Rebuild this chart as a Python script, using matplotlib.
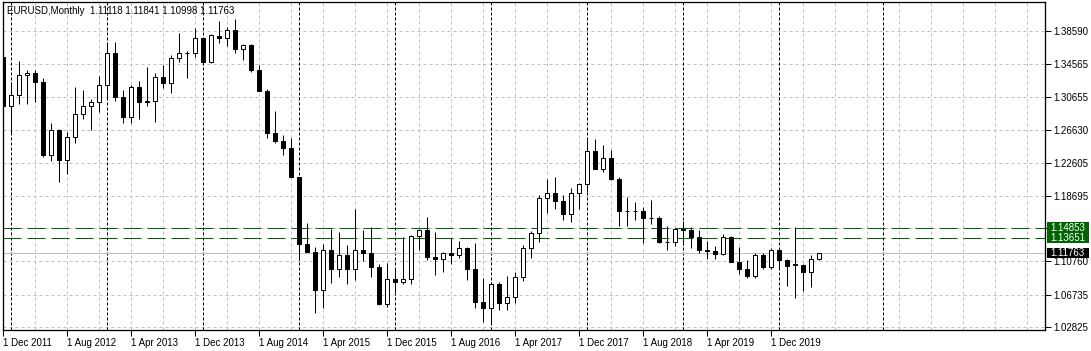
import matplotlib
matplotlib.use("Agg")
import matplotlib.pyplot as plt
import matplotlib.transforms as mtransforms
from matplotlib.patches import Rectangle

# EURUSD monthly bars, Dec 2011 .. Jun 2020
opens = [1.3540, 1.2945, 1.3080, 1.3320, 1.3345, 1.3240, 1.2365, 1.2660, 1.2300, 1.2580,
         1.2860, 1.2955, 1.2995, 1.3200, 1.3585, 1.3060, 1.2820, 1.3175, 1.2995, 1.3010,
         1.3300, 1.3225, 1.3525, 1.3585, 1.3590, 1.3770, 1.3485, 1.3790, 1.3775, 1.3870,
         1.3635, 1.3690, 1.3390, 1.3130, 1.2630, 1.2525, 1.2450, 1.2100, 1.1285, 1.1195,
         1.0730, 1.1220, 1.0985, 1.1150, 1.0985, 1.1210, 1.1175, 1.1005, 1.0565, 1.0860,
         1.0830, 1.0870, 1.1380, 1.1455, 1.1130, 1.1105, 1.1175, 1.1160, 1.1240, 1.0980,
         1.0585, 1.0515, 1.0800, 1.0575, 1.0650, 1.0895, 1.1240, 1.1425, 1.1845, 1.1905,
         1.1810, 1.1645, 1.1905, 1.2005, 1.2410, 1.2195, 1.2320, 1.2075, 1.1690, 1.1690,
         1.1690, 1.1600, 1.1605, 1.1310, 1.1315, 1.1465, 1.1450, 1.1370, 1.1215, 1.1205,
         1.1165, 1.1370, 1.1075, 1.0985, 1.0900, 1.1150, 1.1015, 1.1215, 1.1095, 1.1040,
         1.1030, 1.0955, 1.11118]
highs = [1.3550, 1.3235, 1.3490, 1.3385, 1.3385, 1.3285, 1.2750, 1.2670, 1.2640, 1.3175,
         1.3140, 1.3030, 1.3310, 1.3710, 1.3720, 1.3140, 1.3200, 1.3250, 1.3420, 1.3345,
         1.3450, 1.3570, 1.3830, 1.3620, 1.3895, 1.3775, 1.3825, 1.3975, 1.3905, 1.3995,
         1.3700, 1.3700, 1.3445, 1.3150, 1.2885, 1.2600, 1.2570, 1.2100, 1.1535, 1.1245,
         1.1290, 1.1465, 1.1435, 1.1280, 1.1715, 1.1460, 1.1495, 1.1050, 1.1060, 1.0985,
         1.1375, 1.1395, 1.1465, 1.1615, 1.1430, 1.1185, 1.1365, 1.1325, 1.1245, 1.1300,
         1.0875, 1.0830, 1.0830, 1.0905, 1.0950, 1.1270, 1.1445, 1.1875, 1.2070, 1.2090,
         1.1880, 1.1960, 1.2025, 1.2535, 1.2555, 1.2475, 1.2415, 1.2095, 1.1850, 1.1790,
         1.1735, 1.1815, 1.1625, 1.1500, 1.1485, 1.1570, 1.1490, 1.1450, 1.1325, 1.1265,
         1.1410, 1.1385, 1.1250, 1.1095, 1.1180, 1.1175, 1.1240, 1.1240, 1.1105, 1.1495,
         1.1040, 1.1155, 1.11841]
lows = [1.2860, 1.2625, 1.2975, 1.2975, 1.3000, 1.2335, 1.2290, 1.2040, 1.2130, 1.2500,
        1.2800, 1.2665, 1.2880, 1.3040, 1.3015, 1.2750, 1.2745, 1.2795, 1.2955, 1.2760,
        1.3170, 1.3105, 1.3480, 1.3290, 1.3545, 1.3480, 1.3475, 1.3705, 1.3670, 1.3590,
        1.3505, 1.3365, 1.3130, 1.2570, 1.2500, 1.2360, 1.2100, 1.1100, 1.1190, 1.0460,
        1.0520, 1.0820, 1.0890, 1.0810, 1.0850, 1.1085, 1.0895, 1.0555, 1.0525, 1.0710,
        1.0810, 1.0810, 1.1215, 1.1100, 1.0910, 1.0950, 1.1045, 1.1120, 1.0850, 1.0520,
        1.0350, 1.0340, 1.0495, 1.0495, 1.0570, 1.0840, 1.1120, 1.1310, 1.1660, 1.1715,
        1.1575, 1.1555, 1.1715, 1.1915, 1.2205, 1.2155, 1.2055, 1.1510, 1.1510, 1.1575,
        1.1300, 1.1525, 1.1300, 1.1215, 1.1265, 1.1275, 1.1235, 1.1175, 1.1110, 1.1105,
        1.1160, 1.1065, 1.0925, 1.0880, 1.0880, 1.0980, 1.0980, 1.0990, 1.0775, 1.0635,
        1.0720, 1.0765, 1.10998]
closes = [1.2945, 1.3080, 1.3320, 1.3345, 1.3240, 1.2365, 1.2660, 1.2300, 1.2580, 1.2860,
          1.2955, 1.3005, 1.3200, 1.3585, 1.3060, 1.2820, 1.3175, 1.2995, 1.3010, 1.3300,
          1.3225, 1.3525, 1.3585, 1.3590, 1.3770, 1.3485, 1.3805, 1.3775, 1.3870, 1.3635,
          1.3690, 1.3390, 1.3130, 1.2630, 1.2525, 1.2450, 1.2100, 1.1285, 1.1195, 1.0730,
          1.1220, 1.0985, 1.1150, 1.0985, 1.1210, 1.1175, 1.1005, 1.0565, 1.0860, 1.0830,
          1.0870, 1.1380, 1.1455, 1.1130, 1.1105, 1.1175, 1.1160, 1.1240, 1.0980, 1.0585,
          1.0515, 1.0800, 1.0575, 1.0650, 1.0895, 1.1240, 1.1425, 1.1845, 1.1905, 1.1810,
          1.1645, 1.1905, 1.2005, 1.2410, 1.2195, 1.2320, 1.2075, 1.1690, 1.1685, 1.1680,
          1.1600, 1.1595, 1.1310, 1.1315, 1.1465, 1.1450, 1.1370, 1.1215, 1.1205, 1.1165,
          1.1370, 1.1075, 1.0985, 1.0900, 1.1150, 1.1015, 1.1215, 1.1095, 1.1025, 1.1030,
          1.0955, 1.1105, 1.11763]

# date labels every 8 bars, starting at bar 0
date_labels = ["1 Dec 2011", "1 Aug 2012", "1 Apr 2013", "1 Dec 2013", "1 Aug 2014",
               "1 Apr 2015", "1 Dec 2015", "1 Aug 2016", "1 Apr 2017", "1 Dec 2017",
               "1 Aug 2018", "1 Apr 2019", "1 Dec 2019"]
# price scale (the 1.14770 level is hidden behind the level labels)
price_ticks = [1.38590, 1.34565, 1.30655, 1.26630, 1.22605, 1.18695, 1.14770,
               1.10760, 1.06735, 1.02825]
hidden_tick = 1.14770
# bars where a new year starts (period separators)
year_bars = [1, 13, 25, 37, 49, 61, 73, 85, 97, 110]
# horizontal levels and the current price
levels = [1.14853, 1.13651]
bid = 1.11763
title = "EURUSD,Monthly  1.11118 1.11841 1.10998 1.11763"

plt.rcParams['font.family'] = ['Liberation Sans', 'DejaVu Sans']
plt.rcParams['lines.scale_dashes'] = False

W, H = 1091, 351
fig = plt.figure(figsize=(W / 100, H / 100), dpi=100)
ax = fig.add_axes([3 / W, 21 / H, 1042 / W, 328 / H])
px = 0.72  # one pixel in points

n = len(closes)
idx = list(range(n))

ax.set_xlim(0, 130.25)
ax.set_ylim(1.0250, 1.4205)
ppx = (1.4205 - 1.0250) / 328  # price per pixel

# grid
for x in range(0, 131, 4):
    ax.axvline(x, color='#c0c0c0', lw=px, ls=(0, (3 * px, 3 * px)), zorder=0)
for y in price_ticks:
    ax.axhline(y, color='#c0c0c0', lw=px, ls=(0, (3 * px, 3 * px)), zorder=0)
for x in year_bars:
    ax.axvline(x, color='black', lw=px, ls=(0, (3 * px, 2 * px)), zorder=1)

# levels and bid line
for lv in levels:
    ax.axhline(lv, color='#006400', lw=px, ls=(0, (18 * px, 6 * px)), zorder=1)
ax.axhline(bid, color='#c0c0c0', lw=px, zorder=1)

# candles
ax.vlines(idx, lows, highs, color='black', lw=px, zorder=2)
bottoms = [min(o, c) for o, c in zip(opens, closes)]
heights = [abs(c - o) for o, c in zip(opens, closes)]
fills = ['white' if c >= o else 'black' for o, c in zip(opens, closes)]
ax.bar(idx, heights, bottom=bottoms, width=0.5, color=fills, edgecolor='black',
       linewidth=px, zorder=3)

# axes styling
for s in ax.spines.values():
    s.set_linewidth(px * 1.3)
    s.set_color('black')
ax.set_xticks(list(range(0, 8 * len(date_labels), 8)))
ax.set_xticklabels(date_labels, ha='left', fontsize=7)
ax.tick_params(axis='x', direction='out', length=4, width=px, pad=2)
ax.yaxis.tick_right()
ax.set_yticks(price_ticks)
ax.set_yticklabels(['' if p == hidden_tick else f"{p:.5f}" for p in price_ticks],
                   fontsize=7)
ax.tick_params(axis='y', direction='out', length=4, width=px, pad=2)

# price label boxes on the right scale
trans = mtransforms.blended_transform_factory(ax.transAxes, ax.transData)
half = 5.5 * ppx
ax.add_patch(Rectangle((1.0 + 2 / 1042, min(levels) - half), 42 / 1042,
                       max(levels) - min(levels) + 2 * half, transform=trans,
                       facecolor='#006400', edgecolor='none', clip_on=False, zorder=9))
for lv in levels:
    ax.text(1.0 + 5 / 1042, lv, f"{lv:.5f}", transform=trans, va='center', ha='left',
            fontsize=7, color='white', clip_on=False, zorder=10)
ax.add_patch(Rectangle((1.0 + 2 / 1042, bid - 4.5 * ppx), 42 / 1042, 9.5 * ppx,
                       transform=trans, facecolor='black', edgecolor='none',
                       clip_on=False, zorder=9))
ax.text(1.0 + 5 / 1042, bid, f"{bid:.5f}", transform=trans, va='center', ha='left',
        fontsize=7, color='white', clip_on=False, zorder=10)

fig.text(7 / W, 1 - 11 / H, title, fontsize=7, va='center', ha='left', color='black')

fig.savefig('out.png', dpi=100, facecolor='white')
